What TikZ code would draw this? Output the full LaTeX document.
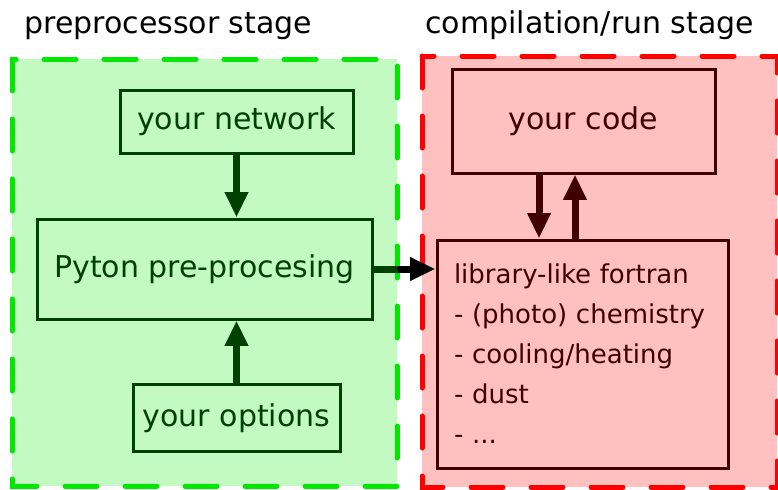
\documentclass[tikz,border=0pt]{standalone}
\usepackage{fontspec}
\setmainfont{DejaVu Sans}
\usetikzlibrary{arrows.meta,calc}
\definecolor{dgreen}{HTML}{004000}
\definecolor{dred}{HTML}{400000}
\definecolor{gfill}{HTML}{C2FAC2}
\definecolor{rfill}{HTML}{FFC0C0}
\definecolor{gline}{HTML}{00E800}
\definecolor{rline}{HTML}{FF0000}
\tikzset{
  panel/.style={line width=3.75pt, dash pattern=on 24pt off 21pt, line cap=round},
  gbox/.style={draw=dgreen, text=dgreen, line width=2.25pt, fill=gfill, inner sep=0pt,
    font=\fontsize{22.5}{27}\selectfont},
  rbox/.style={draw=dred, text=dred, line width=2.25pt, fill=rfill, inner sep=0pt,
    font=\fontsize{22.5}{27}\selectfont},
  conn/.style={line width=5.25pt, -{Triangle[length=19pt,width=16.5pt]}},
  title/.style={anchor=base west, inner sep=0pt, font=\fontsize{22.5}{27}\selectfont}
}
\begin{document}
\begin{tikzpicture}[x=0.75pt,y=-0.75pt]
\useasboundingbox (0,0) rectangle (778,489);
% titles
\node[title] (t1) at (24,33) {preprocessor stage};
\node[title] (t2) at (425,33) {compilation/run stage};
% panels
\fill[gfill] (12,59) rectangle (397,486);
\fill[rfill] (422,56) rectangle (777,487);
\draw[panel, gline] (12,59) rectangle (397,486);
\draw[panel, rline] (422,56) rectangle (777,487);
% boxes
\node[gbox, minimum width=174.75pt, minimum height=47.25pt] (net) at (236.5,121.5) {your network};
\node[gbox, minimum width=251.25pt, minimum height=75pt] (pyt) at (204.5,269) {Pyton pre-procesing};
\node[gbox, minimum width=155.25pt, minimum height=50.25pt] (opt) at (236.5,418) {your options};
\node[rbox, minimum width=197.25pt, minimum height=78pt] (code) at (583.5,121) {your code};
\node[rbox, align=left, text width=192.75pt, inner xsep=12.75pt, minimum height=171pt,
  font=\fontsize{19.5}{30}\selectfont] (lib) at (582.5,354)
  {library-like fortran\\- (photo) chemistry\\- cooling/heating\\- dust\\- ...};
% connectors
\path ($(code.south)+(-44.5,0)$) coordinate (cd);
\path ($(code.south)+(-8.5,0)$) coordinate (cu);
\draw[conn, dgreen] (net.south) -- (net.south |- pyt.north);
\draw[conn, dgreen] (opt.north) -- (opt.north |- pyt.south);
\draw[conn, dred] (cd) -- (cd |- lib.north);
\draw[conn, dred] (cu |- lib.north) -- (cu);
\draw[conn, black] (pyt.east) -- (pyt.east -| lib.west);
\begin{scope}
  \clip (12,200) rectangle (397.5,340);
  \draw[line width=5.25pt, dgreen] (pyt.east) -- (pyt.east -| lib.west);
\end{scope}
\end{tikzpicture}
\end{document}
